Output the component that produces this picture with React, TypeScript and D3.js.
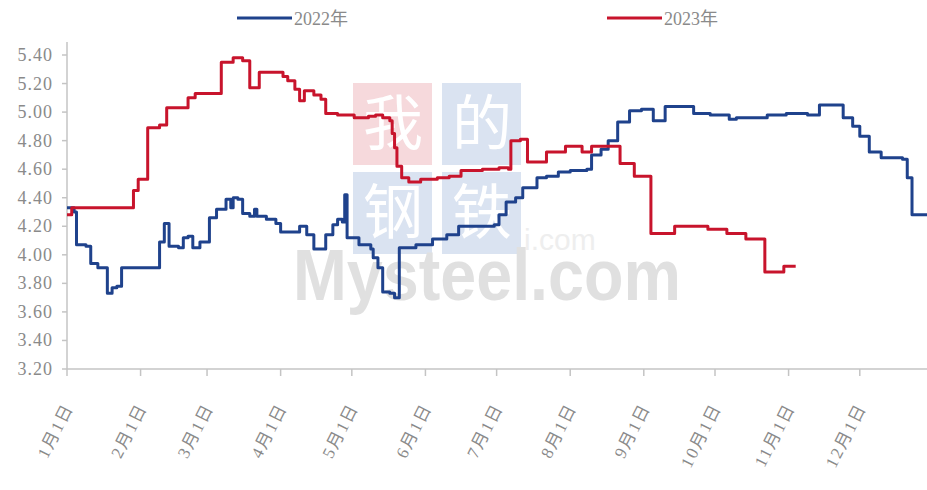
import React, { useEffect, useRef } from 'react';
import * as d3 from 'd3';

// month-day of each price change
const dates2022 = [
  '01-01', '01-04', '01-05', '01-09', '01-11', '01-14', '01-18', '01-20', '01-22', '01-24',
  '02-09', '02-11', '02-13', '02-17', '02-19', '02-21', '02-23', '02-26',
  '03-02', '03-05', '03-09', '03-11', '03-12', '03-14', '03-16', '03-19', '03-21', '03-22', '03-26', '03-30',
  '04-01', '04-09', '04-12', '04-15', '04-20', '04-23', '04-25', '04-27', '04-28', '04-29',
  '05-04', '05-09', '05-10', '05-12', '05-14', '05-17', '05-19', '05-21', '05-28',
  '06-04', '06-10', '06-15', '06-30',
  '07-02', '07-05', '07-09', '07-12', '07-18', '07-22', '07-27',
  '08-01', '08-08', '08-10', '08-14', '08-17', '08-21', '08-26', '08-31',
  '09-05', '09-10', '09-22', '09-29',
  '10-07', '10-10', '10-23', '10-31',
  '11-09', '11-14', '11-22', '11-24', '11-28',
  '12-01', '12-05', '12-10', '12-19', '12-21', '12-23', '12-30',
];
const values2022 = [
  4.33, 4.30, 4.07, 4.06, 3.94, 3.91, 3.73, 3.77, 3.78, 3.91,
  4.09, 4.22, 4.06, 4.05, 4.12, 4.13, 4.05, 4.09,
  4.26, 4.32, 4.39, 4.33, 4.40, 4.39, 4.29, 4.27, 4.32, 4.27, 4.25, 4.22,
  4.16, 4.20, 4.14, 4.04, 4.14, 4.21, 4.25, 4.23, 4.42, 4.12,
  4.07, 4.04, 3.98, 3.91, 3.74, 3.73, 3.70, 4.05, 4.07,
  4.11, 4.14, 4.20, 4.21,
  4.28, 4.37, 4.40, 4.47, 4.54, 4.55, 4.58,
  4.59, 4.60, 4.70, 4.74, 4.80, 4.93, 5.01, 5.02,
  4.94, 5.04, 4.99, 4.98,
  4.95, 4.96, 4.98, 4.99,
  4.98, 5.05, 5.05, 4.96, 4.90,
  4.83, 4.72, 4.68, 4.67, 4.54, 4.28, 4.27,
];

const dates2023 = [
  '01-01', '01-03', '01-29', '01-31', '02-04', '02-09', '02-12', '02-21', '02-24',
  '03-07', '03-12', '03-16', '03-19', '03-23',
  '04-02', '04-04', '04-07', '04-09', '04-11', '04-15', '04-18', '04-20', '04-25',
  '05-02', '05-08', '05-11', '05-14', '05-17', '05-18', '05-19', '05-20', '05-22', '05-25', '05-30',
  '06-06', '06-11', '06-16', '06-25',
  '07-02', '07-06', '07-07', '07-11', '07-14', '07-22', '07-30',
  '08-06', '08-10', '08-22', '08-28',
  '09-04', '09-14', '09-28',
  '10-06', '10-14', '10-22', '10-30', '11-04',
];
const values2023 = [
  4.28, 4.33, 4.45, 4.53, 4.89, 4.91, 5.03, 5.10, 5.13,
  5.35, 5.38, 5.36, 5.17, 5.28,
  5.25, 5.22, 5.16, 5.08, 5.15, 5.12, 5.09, 4.99, 4.98,
  4.96, 4.97, 4.98, 4.96, 4.94, 4.85, 4.75, 4.62, 4.54, 4.51, 4.53,
  4.54, 4.55, 4.59, 4.60,
  4.61, 4.60, 4.80, 4.81, 4.65, 4.72, 4.76,
  4.72, 4.76, 4.64, 4.55,
  4.15, 4.20, 4.18,
  4.15, 4.11, 3.88, 3.92, 3.92,
];

const yTicks = [3.2, 3.4, 3.6, 3.8, 4.0, 4.2, 4.4, 4.6, 4.8, 5.0, 5.2, 5.4];
const monthTicks = ['01-01', '02-01', '03-01', '04-01', '05-01', '06-01', '07-01', '08-01', '09-01', '10-01', '11-01', '12-01'];
const monthLabels = ['1月1日', '2月1日', '3月1日', '4月1日', '5月1日', '6月1日', '7月1日', '8月1日', '9月1日', '10月1日', '11月1日', '12月1日'];
const seriesNames = ['2022年', '2023年'];

const BLUE = '#1f428c';
const RED = '#c8142c';
const AXIS = '#c4c4c4';
const LABEL = '#8a8a8a';

const parseMD = (md: string) => d3.timeParse('%Y-%m-%d')('2022-' + md) as Date;

export default function App() {
  const svgRef = useRef<SVGSVGElement>(null);

  useEffect(() => {
    if (!svgRef.current) return;
    const width = 927;
    const left = 67;
    const bottom = 369;

    const svg = d3.select(svgRef.current);
    svg.selectAll('*').remove();

    const x = d3.scaleTime()
      .domain([parseMD('01-01'), parseMD('12-31')])
      .range([left, 931]);
    const y = d3.scaleLinear().domain([3.2, 5.4]).range([bottom, 55]);

    // watermark (faded, behind the lines)
    const wm = svg.append('g');
    const squares = [
      { x: 353, y: 83, fill: '#f6d9dc', t: '我' },
      { x: 442, y: 83, fill: '#dae3f1', t: '的' },
      { x: 353, y: 172, fill: '#dae3f1', t: '钢' },
      { x: 442, y: 172, fill: '#dae3f1', t: '铁' },
    ];
    squares.forEach((s) => {
      wm.append('rect').attr('x', s.x).attr('y', s.y).attr('width', 79).attr('height', 82).attr('fill', s.fill);
      wm.append('text')
        .attr('x', s.x + 40).attr('y', s.y + 62)
        .attr('text-anchor', 'middle')
        .attr('font-family', '"Noto Sans CJK SC"')
        .attr('font-size', 60)
        .attr('fill', '#ffffff')
        .text(s.t);
    });
    wm.append('text')
      .attr('x', 524).attr('y', 250)
      .attr('font-family', 'Liberation Sans, Arial')
      .attr('font-size', 30)
      .attr('fill', '#eeeeee')
      .text('i.com');
    wm.append('text')
      .attr('x', 293).attr('y', 300)
      .attr('font-family', 'Liberation Sans, Arial')
      .attr('font-weight', 'bold')
      .attr('font-size', 72)
      .attr('textLength', 388)
      .attr('lengthAdjust', 'spacingAndGlyphs')
      .attr('fill', '#e0e0e0')
      .text('Mysteel.com');

    // axes
    svg.append('line')
      .attr('x1', left).attr('x2', left).attr('y1', 42).attr('y2', bottom)
      .attr('stroke', AXIS).attr('stroke-width', 1.5);
    svg.append('line')
      .attr('x1', left).attr('x2', width).attr('y1', bottom).attr('y2', bottom)
      .attr('stroke', AXIS).attr('stroke-width', 1.5);

    const yg = svg.append('g');
    yTicks.forEach((t) => {
      yg.append('line')
        .attr('x1', left - 5).attr('x2', left).attr('y1', y(t)).attr('y2', y(t))
        .attr('stroke', AXIS).attr('stroke-width', 1.5);
      yg.append('text')
        .attr('x', left - 14).attr('y', y(t) + 6)
        .attr('text-anchor', 'end')
        .attr('font-family', '"Liberation Serif", "Times New Roman"')
        .attr('font-size', 18)
        .attr('letter-spacing', 1)
        .attr('fill', LABEL)
        .text(d3.format('.2f')(t));
    });

    const xg = svg.append('g');
    monthTicks.forEach((m, i) => {
      const px = x(parseMD(m));
      xg.append('line')
        .attr('x1', px).attr('x2', px).attr('y1', bottom).attr('y2', bottom + 7)
        .attr('stroke', AXIS).attr('stroke-width', 1.5);
      xg.append('text')
        .attr('transform', `translate(${px + 7},${bottom + 38}) rotate(-63)`)
        .attr('text-anchor', 'end')
        .attr('font-family', '"Liberation Serif", "Noto Sans CJK SC"')
        .attr('font-size', 17)
        .attr('letter-spacing', 2)
        .attr('fill', LABEL)
        .text(monthLabels[i]);
    });

    // lines
    const line = d3.line<[Date, number]>()
      .x((d) => x(d[0]))
      .y((d) => y(d[1]))
      .curve(d3.curveStepAfter);

    const plot = svg.append('g');
    plot.append('path')
      .datum(dates2022.map((d, i) => [parseMD(d), values2022[i]] as [Date, number]))
      .attr('fill', 'none')
      .attr('stroke', BLUE)
      .attr('stroke-width', 3)
      .attr('stroke-linejoin', 'round')
      .attr('d', line);
    plot.append('path')
      .datum(dates2023.map((d, i) => [parseMD(d), values2023[i]] as [Date, number]))
      .attr('fill', 'none')
      .attr('stroke', RED)
      .attr('stroke-width', 3)
      .attr('stroke-linejoin', 'round')
      .attr('d', line);

    // legend
    const legend = [
      { name: seriesNames[0], color: BLUE, x: 237 },
      { name: seriesNames[1], color: RED, x: 607 },
    ];
    legend.forEach((l) => {
      svg.append('line')
        .attr('x1', l.x).attr('x2', l.x + 55).attr('y1', 18).attr('y2', 18)
        .attr('stroke', l.color).attr('stroke-width', 3);
      svg.append('text')
        .attr('x', l.x + 57).attr('y', 25)
        .attr('font-family', '"Liberation Serif", "Noto Sans CJK SC"')
        .attr('font-size', 18)
        .attr('fill', LABEL)
        .text(l.name);
    });
  }, []);

  return (
    <svg
      ref={svgRef}
      width={927}
      height={490}
      style={{ position: 'absolute', left: 0, top: 0, background: '#fff' }}
    />
  );
}
